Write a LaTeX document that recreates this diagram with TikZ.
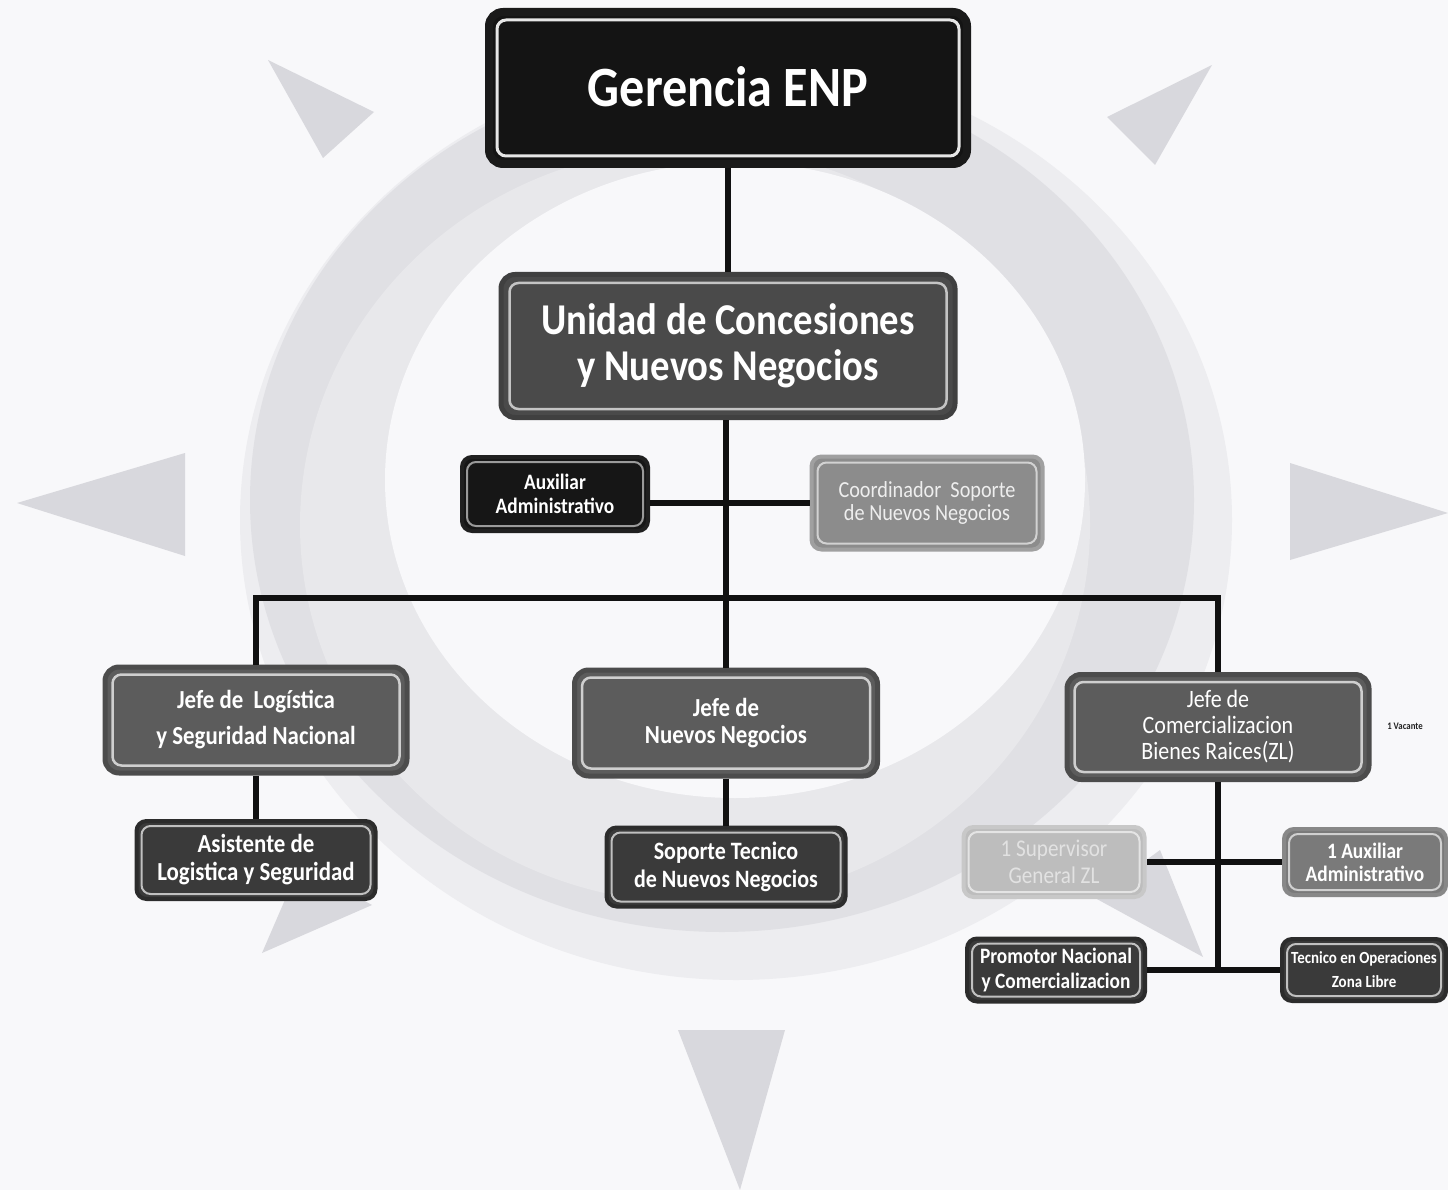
\documentclass[tikz,border=0pt]{standalone}
\usepackage{fontspec}
\newfontfamily\boxfont{Carlito}[FakeStretch=0.88]
\definecolor{bg}{HTML}{F8F8FA}
\definecolor{ringlight}{HTML}{EDEDF0}
\definecolor{ringdark}{HTML}{E0E0E4}
\definecolor{ringmid}{HTML}{E8E8EB}
\definecolor{tric}{HTML}{D8D8DD}
\definecolor{linec}{HTML}{111111}
\definecolor{gerfill}{HTML}{141414}
\definecolor{gerdraw}{HTML}{1A1A1A}
\definecolor{gerin}{HTML}{E6E6E6}
\definecolor{unifill}{HTML}{4A4A4A}
\definecolor{unidraw}{HTML}{404040}
\definecolor{uniin}{HTML}{C4C4C4}
\definecolor{blkfill}{HTML}{161616}
\definecolor{blkdraw}{HTML}{202020}
\definecolor{blkin}{HTML}{9A9A9A}
\definecolor{coofill}{HTML}{8C8C8C}
\definecolor{coodraw}{HTML}{A0A0A0}
\definecolor{cooin}{HTML}{D2D2D2}
\definecolor{cootext}{HTML}{EEEEEE}
\definecolor{jefill}{HTML}{5C5C5C}
\definecolor{jedraw}{HTML}{4C4C4C}
\definecolor{jein}{HTML}{CFCFCF}
\definecolor{dkfill}{HTML}{3A3A3A}
\definecolor{dkdraw}{HTML}{2C2C2C}
\definecolor{dkin}{HTML}{C0C0C0}
\definecolor{supfill}{HTML}{BDBDBD}
\definecolor{supdraw}{HTML}{C8C8C8}
\definecolor{supin}{HTML}{E4E4E4}
\definecolor{suptext}{HTML}{E2E2E2}
\definecolor{auxfill}{HTML}{7A7A7A}
\definecolor{auxdraw}{HTML}{888888}
\definecolor{auxin}{HTML}{D0D0D0}
\definecolor{vactext}{HTML}{222222}
\newcommand\innerframe[4]{\draw[draw=#3, line width=#4, rounded corners=9pt] ([shift={(#2,#2)}]#1.north west) rectangle ([shift={(-#2,-#2)}]#1.south east);}
\begin{document}
\begin{tikzpicture}[x=1pt,y=-1pt,
  box/.style={rounded corners=14pt, line width=5pt, align=center, inner sep=0pt, text=white},
  sbox/.style={rounded corners=10pt, line width=4pt, align=center, inner sep=0pt, text=white},
  conn/.style={line width=5.5pt, draw=linec},
  tri/.style={fill=tric}]
\useasboundingbox (0,0) rectangle (1448,1190);
\fill[bg] (0,0) rectangle (1448,1190);
% background ring
\fill[ringlight] (736,520) ellipse [x radius=496, y radius=460];
\begin{scope}
  \clip (736,520) ellipse [x radius=496, y radius=460];
  \fill[ringdark] (722,500) ellipse [x radius=472, y radius=432];
  \fill[ringmid] (695,525) ellipse [x radius=395, y radius=378];
\end{scope}
\fill[bg] (735,480) ellipse [x radius=350, y radius=318];
% triangles
\fill[tri] (268,60) -- (374,112) -- (323,158) -- cycle;
\fill[tri] (1212,65) -- (1107,117) -- (1155,165) -- cycle;
\fill[tri] (185,453) -- (185,556) -- (17,503) -- cycle;
\fill[tri] (1290,463) -- (1290,560) -- (1448,513) -- cycle;
\fill[tri] (678,1030) -- (785,1030) -- (740,1190) -- cycle;
\fill[tri] (262,953) -- (300,865) -- (372,905) -- cycle;
\fill[tri] (1203,957) -- (1095,898) -- (1160,850) -- cycle;
% nodes
\node[box, fill=gerfill, draw=gerdraw, line width=8pt, minimum width=478pt, minimum height=152pt,
  font=\boxfont\bfseries\fontsize{57}{60}\selectfont] (ger) at (728,88) {\raisebox{3pt}{Gerencia ENP}};
\node[box, fill=unifill, draw=unidraw, minimum width=454pt, minimum height=143pt,
  font=\boxfont\bfseries\fontsize{44}{46}\selectfont] (uni) at (728,346) {Unidad de Concesiones\\y Nuevos Negocios};
\node[sbox, fill=blkfill, draw=blkdraw, minimum width=186pt, minimum height=74pt,
  font=\boxfont\bfseries\fontsize{22}{24}\selectfont] (auxa) at (555,494) {Auxiliar\\Administrativo};
\node[sbox, fill=coofill, draw=coodraw, minimum width=231pt, minimum height=93pt, text=cootext,
  font=\boxfont\fontsize{23}{23}\selectfont] (coord) at (927,503) {Coordinador\ \ Soporte\\de Nuevos Negocios};
\node[box, fill=jefill, draw=jedraw, minimum width=302pt, minimum height=106pt,
  font=\boxfont\bfseries\fontsize{26}{36}\selectfont] (jl) at (256,720) {Jefe de\ \ Logística\\y Seguridad Nacional};
\node[box, fill=jefill, draw=jedraw, minimum width=303pt, minimum height=106pt,
  font=\boxfont\bfseries\fontsize{26}{27}\selectfont] (jn) at (726,723) {Jefe de\\Nuevos Negocios};
\node[box, fill=jefill, draw=jedraw, minimum width=302pt, minimum height=105pt,
  font=\boxfont\fontsize{25}{26}\selectfont] (jc) at (1218,727) {Jefe de\\Comercializacion\\Bienes Raices(ZL)};
\node[sbox, fill=dkfill, draw=dkdraw, minimum width=239pt, minimum height=78pt,
  font=\boxfont\bfseries\fontsize{26}{28}\selectfont] (asis) at (256,860) {Asistente de\\Logistica y Seguridad};
\node[sbox, fill=dkfill, draw=dkdraw, minimum width=239pt, minimum height=79pt,
  font=\boxfont\bfseries\fontsize{25}{28}\selectfont] (sop) at (726,867) {Soporte Tecnico\\de Nuevos Negocios};
\node[sbox, fill=supfill, draw=supdraw, minimum width=181pt, minimum height=70pt, text=suptext,
  font=\boxfont\fontsize{24}{27}\selectfont] (sup) at (1054,862) {1 Supervisor\\General ZL};
\node[sbox, fill=auxfill, draw=auxdraw, minimum width=162pt, minimum height=66pt,
  font=\boxfont\bfseries\fontsize{22}{23}\selectfont] (aux2) at (1365,862) {1 Auxiliar\\Administrativo};
\node[sbox, fill=dkfill, draw=dkdraw, minimum width=178pt, minimum height=63pt,
  font=\boxfont\bfseries\fontsize{22}{25}\selectfont] (prom) at (1056,970) {Promotor Nacional\\y Comercializacion};
\node[sbox, fill=dkfill, draw=dkdraw, minimum width=164pt, minimum height=62pt,
  font=\boxfont\bfseries\fontsize{17}{24}\selectfont] (tec) at (1364,970) {Tecnico en Operaciones\\Zona Libre};
\node[font=\boxfont\bfseries\fontsize{10}{10}\selectfont, text=vactext, inner sep=0pt] (vac) at (1405,726) {1 Vacante};
% inner frames
\innerframe{ger}{12}{gerin}{3pt}
\innerframe{uni}{11}{uniin}{2.5pt}
\innerframe{auxa}{7}{blkin}{2pt}
\innerframe{coord}{8}{cooin}{2pt}
\innerframe{jl}{10}{jein}{2.5pt}
\innerframe{jn}{10}{jein}{2.5pt}
\innerframe{jc}{10}{jein}{2.5pt}
\innerframe{asis}{7}{dkin}{2pt}
\innerframe{sop}{7}{dkin}{2pt}
\innerframe{sup}{7}{supin}{2pt}
\innerframe{aux2}{7}{auxin}{2pt}
\innerframe{prom}{7}{dkin}{2pt}
\innerframe{tec}{7}{dkin}{2pt}
% connectors
\coordinate (bus) at (726,598);
\draw[conn] (ger.south) -- (uni.north);
\draw[conn] (uni.south -| jn.north) -- (jn.north);
\draw[conn] (auxa.east |- coord.west) -- (coord.west);
\draw[conn] (jl.north) |- (bus) -| (jc.north);
\draw[conn] (jl.south) -- (asis.north);
\draw[conn] (jn.south) -- (sop.north);
\draw[conn] (jc.south) -- (jc.south |- tec.west);
\draw[conn] (sup.east) -- (aux2.west);
\draw[conn] (prom.east) -- (tec.west);
\end{tikzpicture}
\end{document}
